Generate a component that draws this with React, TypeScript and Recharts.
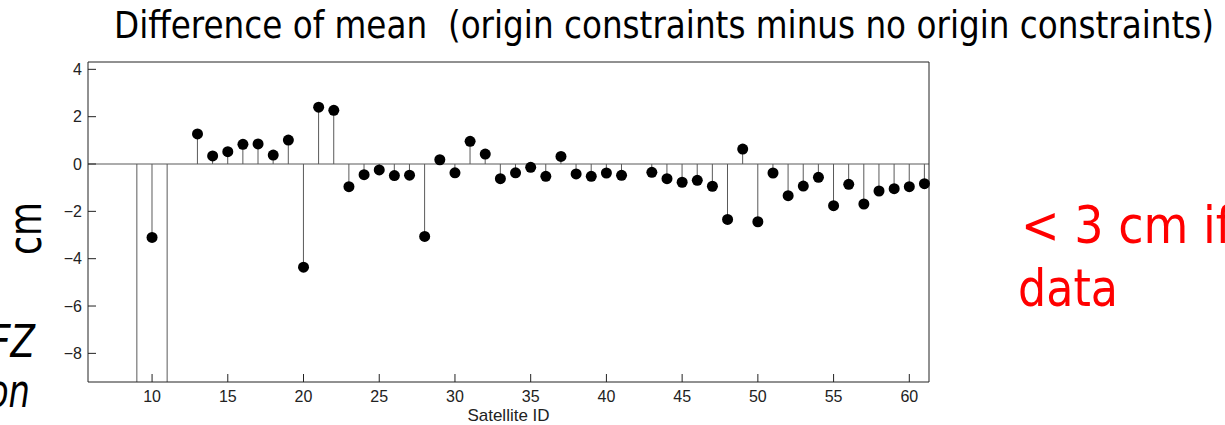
import { ComposedChart, Bar, Scatter, XAxis, YAxis, ReferenceLine } from 'recharts';

// satellite IDs and mean difference (cm); 9 and 11 are off the bottom of the scale
const SATELLITES = [
  9, 10, 11, 13, 14, 15, 16, 17, 18, 19, 20, 21, 22, 23, 24, 25, 26, 27, 28, 29, 30,
  31, 32, 33, 34, 35, 36, 37, 38, 39, 40, 41, 43, 44, 45, 46, 47, 48, 49, 50,
  51, 52, 53, 54, 55, 56, 57, 58, 59, 60, 61,
];
const MEAN_DIFF = [
  -12, -3.1, -12, 1.27, 0.34, 0.52, 0.83, 0.85, 0.38, 1.01, -4.36, 2.4, 2.27, -0.96, -0.45, -0.25, -0.49, -0.47, -3.06, 0.18, -0.37,
  0.96, 0.42, -0.62, -0.37, -0.14, -0.52, 0.32, -0.42, -0.52, -0.38, -0.48, -0.35, -0.62, -0.77, -0.69, -0.94, -2.34, 0.63, -2.44,
  -0.38, -1.34, -0.93, -0.56, -1.76, -0.86, -1.69, -1.14, -1.04, -0.96, -0.83,
];
const X_TICKS = [10, 15, 20, 25, 30, 35, 40, 45, 50, 55, 60];
const Y_TICKS = [-8, -6, -4, -2, 0, 2, 4];
const X_DOMAIN: [number, number] = [5.77, 61.3];
const Y_DOMAIN: [number, number] = [-9.21, 4.31];

const TITLE = 'Difference of mean  (origin constraints minus no origin constraints)';
const NOTE_LINES = ['< 3 cm if', 'data'];

const data = SATELLITES.map((sat, i) => ({ sat, mean: MEAN_DIFF[i] }));

const AXIS_COLOR = '#222';
const STEM_COLOR = '#5a5a5a';
const tickFont = { fill: '#222', fontSize: 16, fontFamily: '"Liberation Sans", Arial, sans-serif' };
const slideFont = '"DejaVu Sans", Tahoma, sans-serif';

const fmtMinus = (v: number) => String(v).replace('-', '\u2212');

const Dot = (props: any) => {
  const { cx, cy } = props;
  if (cx == null || cy == null) return null;
  return <circle cx={cx} cy={cy} r={5.5} fill="#000" />;
};

export default function App() {
  return (
    <div style={{ position: 'absolute', left: 0, top: 0, width: 1225, height: 425, background: '#fff' }}>
      <ComposedChart
        width={1225}
        height={425}
        data={data}
        margin={{ top: 52, right: 286, bottom: 0, left: 0 }}
      >
        <XAxis
          xAxisId="bottom"
          dataKey="sat"
          type="number"
          domain={X_DOMAIN}
          ticks={X_TICKS}
          height={43}
          tickSize={-8}
          tickMargin={17}
          stroke={AXIS_COLOR}
          tick={tickFont}
          label={{ value: 'Satellite ID', position: 'insideBottom', offset: 4, fill: '#222', fontSize: 17, fontFamily: '"Liberation Sans", Arial, sans-serif' }}
        />
        <XAxis
          xAxisId="top"
          orientation="top"
          type="number"
          domain={X_DOMAIN}
          ticks={X_TICKS}
          height={10}
          tickSize={-8}
          tick={false}
          stroke={AXIS_COLOR}
        />
        <YAxis
          yAxisId="left"
          type="number"
          domain={Y_DOMAIN}
          ticks={Y_TICKS}
          allowDataOverflow
          width={88}
          tickSize={-8}
          tickMargin={14}
          stroke={AXIS_COLOR}
          tick={tickFont}
          tickFormatter={fmtMinus}
        />
        <YAxis
          yAxisId="right"
          orientation="right"
          type="number"
          domain={Y_DOMAIN}
          ticks={Y_TICKS}
          width={10}
          tickSize={-8}
          tick={false}
          stroke={AXIS_COLOR}
        />
        <ReferenceLine xAxisId="bottom" yAxisId="left" y={0} stroke={STEM_COLOR} strokeWidth={1.2} />
        <Bar
          xAxisId="bottom"
          yAxisId="left"
          dataKey="mean"
          barSize={1}
          fill={STEM_COLOR}
          isAnimationActive={false}
        />
        <Scatter
          xAxisId="bottom"
          yAxisId="left"
          dataKey="mean"
          shape={Dot}
          isAnimationActive={false}
        />
      </ComposedChart>
      <svg
        width={1225}
        height={425}
        style={{ position: 'absolute', left: 0, top: 0, pointerEvents: 'none' }}
      >
        <text x={114} y={38} fontSize={37} fontFamily={slideFont} fill="#000" textLength={1100} lengthAdjust="spacingAndGlyphs" style={{ whiteSpace: 'pre' }}>
          {TITLE}
        </text>
        <text transform="translate(41,228.5) rotate(-90)" textAnchor="middle" fontSize={46} fontFamily={slideFont} fill="#000" textLength={53} lengthAdjust="spacingAndGlyphs">
          cm
        </text>
        <text x={-10} y={357} fontSize={44} fontStyle="italic" fontFamily={slideFont} fill="#000" textLength={45} lengthAdjust="spacingAndGlyphs">FZ</text>
        <text x={-12} y={407} fontSize={46} fontStyle="italic" fontFamily={slideFont} fill="#000" textLength={42} lengthAdjust="spacingAndGlyphs">on</text>
        <text x={1021} y={243} fontSize={52} fontFamily={slideFont} fill="#ff0000" textLength={211} lengthAdjust="spacingAndGlyphs" style={{ whiteSpace: 'pre' }}>
          {NOTE_LINES[0]}
        </text>
        <text x={1018} y={306} fontSize={52} fontFamily={slideFont} fill="#ff0000" textLength={100} lengthAdjust="spacingAndGlyphs">
          {NOTE_LINES[1]}
        </text>
      </svg>
    </div>
  );
}
